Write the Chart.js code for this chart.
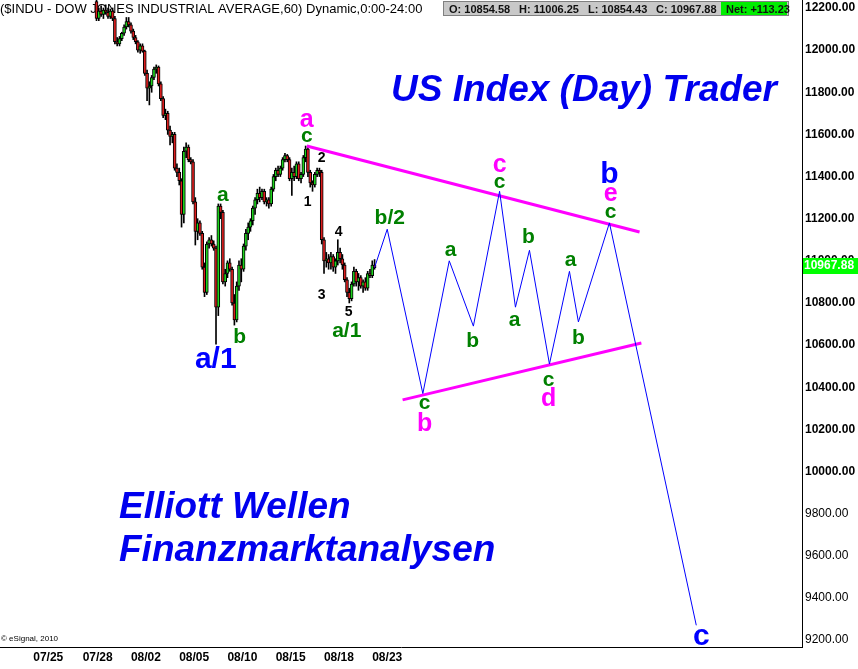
<!DOCTYPE html>
<html>
<head>
<meta charset="utf-8">
<script src="https://cdn.jsdelivr.net/npm/chart.js@4.4.0/dist/chart.umd.min.js"></script>
<style>
  html, body { margin: 0; padding: 0; background: #fff; }
  canvas { display: block; }
</style>
</head>
<body>
<canvas id="chart" width="858" height="669"></canvas>
<script>
// hourly bars, index of the first visible bar on the x axis
var firstBar = 42;

var opens = [12230, 12150, 12185, 12170, 12190, 12180, 12160, 12185, 12150, 12040,
  12030, 12055, 12080, 12110, 12135, 12120, 12090, 12060, 12040, 12000,
  12020, 11995, 11890, 11820, 11830, 11870, 11910, 11920, 11840, 11770,
  11690, 11700, 11620, 11590, 11600, 11440, 11420, 11380, 11220, 11520,
  11540, 11480, 11470, 11280, 11140, 11180, 11130, 10970, 10850, 11080,
  11100, 11080, 11060, 10780, 11260, 11230, 10900, 10940, 10990, 10960,
  10800, 10720, 10880, 10980, 10960, 11070, 11130, 11160, 11190, 11250,
  11290, 11320, 11300, 11330, 11280, 11290, 11270, 11340, 11400, 11430,
  11410, 11440, 11480, 11500, 11480, 11390, 11420, 11400, 11460, 11390,
  11410, 11490, 11530, 11420, 11370, 11360, 11410, 11430, 11420, 11100,
  11000, 11010, 10990, 11020, 10970, 11000, 11040, 11010, 10980, 10910,
  10850, 10820, 10890, 10950, 10900, 10920, 10880, 10900, 10870, 10940,
  10930, 10980];
var highs = [12250, 12200, 12210, 12200, 12215, 12200, 12195, 12200, 12160, 12060,
  12065, 12085, 12120, 12155, 12155, 12130, 12100, 12070, 12045, 12030,
  12030, 12000, 11905, 11850, 11880, 11920, 11930, 11925, 11850, 11780,
  11720, 11710, 11640, 11610, 11610, 11460, 11440, 11390, 11540, 11560,
  11550, 11490, 11480, 11300, 11200, 11190, 11140, 10990, 11090, 11110,
  11120, 11095, 11070, 11270, 11270, 11240, 10960, 11000, 11010, 10970,
  10840, 10900, 11000, 11010, 11080, 11150, 11180, 11200, 11260, 11300,
  11340, 11350, 11340, 11340, 11300, 11300, 11350, 11410, 11440, 11450,
  11450, 11490, 11510, 11505, 11490, 11440, 11450, 11470, 11470, 11420,
  11500, 11545, 11540, 11430, 11380, 11420, 11440, 11440, 11430, 11110,
  11040, 11030, 11040, 11030, 11010, 11100, 11060, 11030, 10990, 10920,
  10870, 10900, 10970, 10960, 10940, 10930, 10910, 10920, 10950, 10960,
  11000, 11006];
var lows = [12140, 12140, 12160, 12150, 12170, 12150, 12150, 12140, 12030, 12020,
  12020, 12045, 12070, 12100, 12110, 12080, 12050, 12030, 11990, 11985,
  11990, 11880, 11760, 11740, 11800, 11860, 11890, 11830, 11760, 11680,
  11670, 11600, 11550, 11560, 11430, 11400, 11360, 11160, 11180, 11490,
  11470, 11460, 11270, 11075, 11100, 11120, 10960, 10830, 10840, 11060,
  11070, 11050, 10604, 10740, 11200, 10890, 10880, 10920, 10950, 10790,
  10695, 10710, 10860, 10900, 10950, 11050, 11100, 11140, 11170, 11220,
  11270, 11280, 11290, 11270, 11260, 11250, 11260, 11330, 11380, 11400,
  11400, 11430, 11470, 11470, 11380, 11310, 11380, 11390, 11380, 11370,
  11400, 11470, 11400, 11350, 11330, 11350, 11400, 11400, 11080, 10940,
  10970, 10960, 10960, 10950, 10940, 10980, 10990, 10960, 10900, 10830,
  10800, 10810, 10880, 10880, 10860, 10870, 10850, 10860, 10860, 10920,
  10920, 10960];
var closes = [12150, 12185, 12170, 12190, 12180, 12160, 12185, 12150, 12040, 12030,
  12055, 12080, 12110, 12135, 12120, 12090, 12060, 12040, 12000, 12020,
  11995, 11890, 11820, 11830, 11870, 11910, 11920, 11840, 11770, 11690,
  11700, 11620, 11590, 11600, 11440, 11420, 11380, 11220, 11520, 11540,
  11480, 11470, 11280, 11140, 11180, 11130, 10970, 10850, 11080, 11100,
  11080, 11060, 10780, 11260, 11230, 10900, 10940, 10990, 10960, 10800,
  10720, 10880, 10980, 10960, 11070, 11130, 11160, 11190, 11250, 11290,
  11320, 11300, 11330, 11280, 11290, 11270, 11340, 11400, 11430, 11410,
  11440, 11480, 11500, 11480, 11390, 11420, 11400, 11460, 11390, 11410,
  11490, 11530, 11420, 11370, 11360, 11410, 11430, 11420, 11100, 11000,
  11010, 10990, 11020, 10970, 11000, 11040, 11010, 10980, 10910, 10850,
  10820, 10890, 10950, 10900, 10920, 10880, 10900, 10870, 10940, 10930,
  10980, 10967.88];

// x axis ticks (bar index) and their dates
var dateTicks = [21, 42.5, 63.5, 84.5, 105.5, 126.5, 147.5, 168.5];
var dateLabels = ['07/25', '07/28', '08/02', '08/05', '08/10', '08/15', '08/18', '08/23'];
var priceTicks = [9200, 9400, 9600, 9800, 10000, 10200, 10400, 10600, 10800, 11000,
  11200, 11400, 11600, 11800, 12000, 12200];

// projected Elliott wave path (blue)
var waveX = [163, 168.5, 184, 195.5, 206, 217.4, 224.3, 230.4, 239.1, 247.8, 251.7, 265.2, 303];
var waveY = [10967.88, 11150, 10370, 11000, 10690, 11330, 10780, 11050, 10510, 10950, 10710, 11180, 9270];

// triangle boundaries (magenta)
var upperX = [133.5, 278.3];
var upperY = [11545, 11137];
var lowerX = [175.2, 279.1];
var lowerY = [10340, 10610];

// wave labels
var labelText = ['a/1', 'b', 'a', 'a', 'c', '2', '1', '4', '3', '5', 'a/1', 'b/2',
  'c', 'b', 'a', 'b', 'c', 'c', 'b', 'a', 'c', 'd', 'a', 'b', 'b', 'e', 'c', 'c'];
var labelX = [93.9, 104.3, 97, 133.5, 133.5, 140, 133.9, 147.4, 140, 151.7, 150.9, 169.6,
  184.8, 184.8, 196.1, 205.7, 217.4, 217.4, 230, 223.9, 238.7, 238.7, 248.3, 251.7,
  265.2, 265.7, 265.7, 305.2];
var labelY = [10529, 10639, 11312, 11668, 11593, 11488, 11279, 11137, 10838, 10757, 10667, 11203,
  10325, 10226, 11051, 10620, 11455, 11374, 11113, 10719, 10435, 10344, 11004, 10634,
  11407, 11317, 11232, 9215];
var labelKind = ['blue', 'green', 'green', 'pink', 'green', 'num', 'num', 'num', 'num', 'num', 'green', 'green',
  'green', 'pink', 'green', 'green', 'pink', 'green', 'green', 'green', 'green', 'pink', 'green', 'green',
  'blue', 'pink', 'green', 'blue'];

var FONT = "'Liberation Sans', Arial, sans-serif";
var kindStyle = {
  blue: { color: '#0000ff', font: 'bold 30px ' + FONT },
  green: { color: '#008000', font: 'bold 21px ' + FONT },
  pink: { color: '#ff00ff', font: 'bold 25px ' + FONT },
  num: { color: '#000000', font: 'bold 14px ' + FONT }
};

var upColor = '#1ed21e', downColor = '#dc1e1e';

var overlay = {
  id: 'overlay',
  beforeDatasetsDraw: function (chart) {
    var ctx = chart.ctx;
    ctx.save();
    ctx.fillStyle = '#000';
    ctx.font = '13px ' + FONT;
    ctx.textBaseline = 'alphabetic';
    ctx.fillText('($INDU - DOW JONES INDUSTRIAL AVERAGE,60) Dynamic,0:00-24:00', 0, 13);
    ctx.restore();
  },
  afterDatasetsDraw: function (chart) {
    var ctx = chart.ctx, xs = chart.scales.x, ys = chart.scales.y;
    ctx.save();
    ctx.textAlign = 'center';
    ctx.textBaseline = 'middle';
    for (var i = 0; i < labelText.length; i++) {
      var st = kindStyle[labelKind[i]];
      ctx.fillStyle = st.color;
      ctx.font = st.font;
      ctx.fillText(labelText[i], xs.getPixelForValue(labelX[i]), ys.getPixelForValue(labelY[i]));
    }
    // headline texts
    ctx.textAlign = 'left';
    ctx.textBaseline = 'alphabetic';
    ctx.fillStyle = '#0000ee';
    ctx.font = 'italic bold 37px ' + FONT;
    ctx.fillText('US Index (Day) Trader', 391, 101);
    ctx.fillText('Elliott Wellen', 119, 518);
    ctx.fillText('Finanzmarktanalysen', 119, 561);
    ctx.fillStyle = '#000';
    ctx.font = '8px ' + FONT;
    ctx.fillText('\u00a9 eSignal, 2010', 1, 641);
    ctx.restore();
  },
  afterDraw: function (chart) {
    var ctx = chart.ctx;
    ctx.save();
    // OHLC box
    ctx.fillStyle = '#c8c8c8';
    ctx.fillRect(443, 1, 346, 15);
    ctx.strokeStyle = '#808080';
    ctx.lineWidth = 1;
    ctx.strokeRect(443.5, 1.5, 345, 14);
    ctx.fillStyle = '#00ee00';
    ctx.fillRect(721, 2, 66, 13);
    ctx.fillStyle = '#101010';
    ctx.font = 'bold 11px ' + FONT;
    ctx.textBaseline = 'alphabetic';
    ctx.fillText('O: 10854.58', 449, 13);
    ctx.fillText('H: 11006.25', 519, 13);
    ctx.fillText('L: 10854.43', 588, 13);
    ctx.fillText('C: 10967.88', 656, 13);
    ctx.fillText('Net: +113.23', 726, 13);
    // last price tag
    var y = chart.scales.y.getPixelForValue(closes[closes.length - 1]);
    ctx.fillStyle = '#00ff00';
    ctx.fillRect(803, Math.round(y) - 10, 55, 16);
    ctx.fillStyle = '#fff';
    ctx.font = 'bold 12px ' + FONT;
    ctx.textBaseline = 'middle';
    ctx.fillText('10967.88', 804, Math.round(y) - 2);
    ctx.restore();
  }
};

function noPad(s) {
  s.paddingTop = 0; s.paddingBottom = 0; s.paddingLeft = 0; s.paddingRight = 0;
}

new Chart(document.getElementById('chart').getContext('2d'), {
  type: 'bar',
  data: {
    datasets: [{
      type: 'line',
      data: waveX.map(function (x, i) { return { x: x, y: waveY[i] }; }),
      borderColor: '#0000ff',
      borderWidth: 1,
      pointRadius: 0,
      tension: 0,
      fill: false
    }, {
      type: 'line',
      data: upperX.map(function (x, i) { return { x: x, y: upperY[i] }; }),
      borderColor: '#ff00ff',
      borderWidth: 3,
      pointRadius: 0,
      fill: false
    }, {
      type: 'line',
      data: lowerX.map(function (x, i) { return { x: x, y: lowerY[i] }; }),
      borderColor: '#ff00ff',
      borderWidth: 3,
      pointRadius: 0,
      fill: false
    }, {
      // candle bodies
      data: opens.map(function (o, i) { return { x: firstBar + i, y: [o, closes[i]] }; }),
      backgroundColor: opens.map(function (o, i) { return closes[i] >= o ? upColor : downColor; }),
      borderColor: '#000',
      borderWidth: 1,
      borderSkipped: false,
      barThickness: 3,
      grouped: false
    }, {
      // wicks
      data: lows.map(function (l, i) { return { x: firstBar + i, y: [l, highs[i]] }; }),
      backgroundColor: '#000',
      borderWidth: 0,
      barThickness: 1,
      grouped: false
    }]
  },
  options: {
    responsive: false,
    animation: false,
    layout: { padding: 0 },
    plugins: { legend: { display: false }, tooltip: { enabled: false } },
    scales: {
      x: {
        type: 'linear',
        min: 0,
        max: 349,
        offset: false,
        grid: { display: false, drawTicks: false },
        border: { display: true, color: '#000', width: 1 },
        afterBuildTicks: function (s) { s.ticks = dateTicks.map(function (v) { return { value: v }; }); },
        afterFit: function (s) { s.height = 22; noPad(s); },
        ticks: {
          padding: 3,
          color: '#000',
          maxRotation: 0,
          autoSkip: false,
          font: { family: FONT, size: 12, weight: 'bold' },
          callback: function (v) { var k = dateTicks.indexOf(v); return k >= 0 ? dateLabels[k] : ''; }
        }
      },
      y: {
        position: 'right',
        min: 9167,
        max: 12238,
        grid: { display: false, drawTicks: false },
        border: { display: true, color: '#000', width: 1 },
        afterBuildTicks: function (s) { s.ticks = priceTicks.map(function (v) { return { value: v }; }); },
        afterFit: function (s) { s.width = 56; noPad(s); },
        ticks: {
          padding: 3,
          color: '#000',
          font: function (c) { return { family: FONT, size: 12, weight: c.tick && c.tick.value >= 10000 ? 'bold' : 'normal' }; },
          callback: function (v) { return v.toFixed(2); }
        }
      }
    }
  },
  plugins: [overlay]
});
</script>
</body>
</html>
